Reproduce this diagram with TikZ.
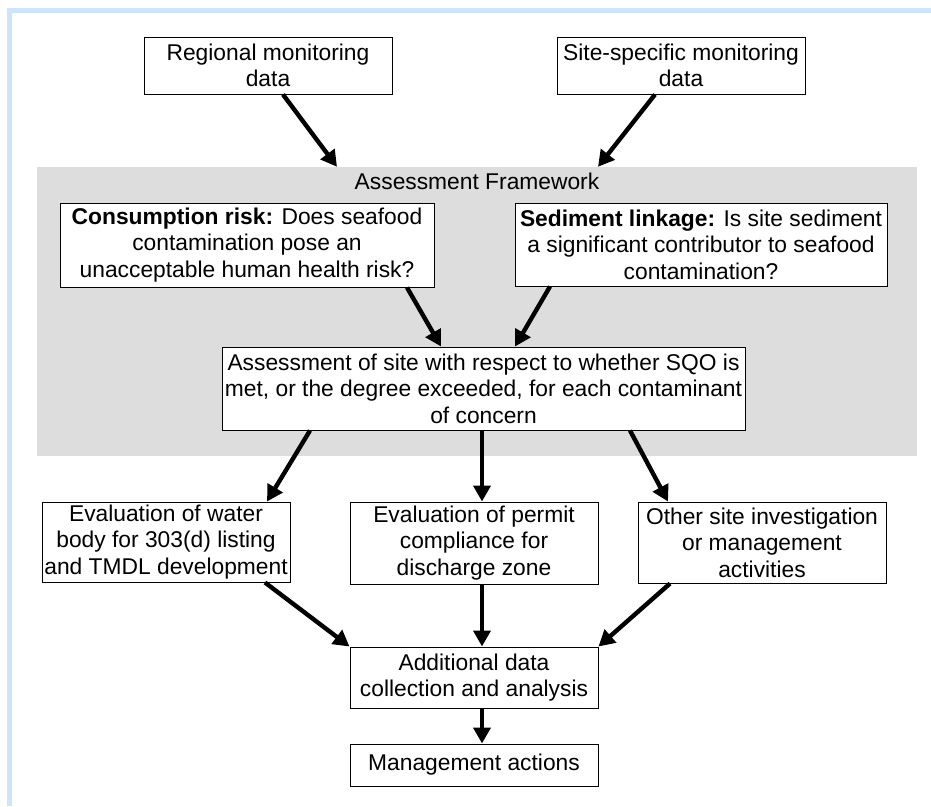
\documentclass[tikz,border=0pt]{standalone}
\usepackage{fontspec}
\setmainfont{Liberation Sans}
\usepackage{xcolor}
\usepackage{tikz}
\usetikzlibrary{arrows.meta, positioning}
\definecolor{sqobleu}{RGB}{204,228,252}
\definecolor{sqogris}{RGB}{221,221,221}

\tikzset{
  sqobox/.style={rectangle, draw=black, line width=1pt, fill=white, inner sep=0pt,
                 align=center, font=\fontsize{22.8}{26.5}\selectfont},
  sqoarrow/.style={line width=4.4pt, -{Triangle[length=16pt, width=17pt]}}
}

\begin{document}
\begin{tikzpicture}[x=1pt, y=-1pt]
  \useasboundingbox (0,0) rectangle (931,806);
  \fill[sqobleu] (7,8) rectangle (931,13);
  \fill[sqobleu] (7,8) rectangle (12,806);

  \node[rectangle, fill=sqogris, inner sep=0pt, minimum width=880pt, minimum height=289pt]
    (frame) at (477,311.5) {};
  \node[font=\fontsize{22.8}{26.5}\selectfont, below=3pt of frame.north] (fwlabel) {Assessment Framework};

  \node[sqobox, minimum width=248pt, minimum height=57pt] (reg) at (268,65.5)
    {Regional monitoring\\data};
  \node[sqobox, minimum width=248pt, minimum height=57pt] (site) at (681,65.5)
    {Site-specific monitoring\\data};

  \node[sqobox, minimum width=374pt, minimum height=84pt] (cons) at (247,245)
    {\textbf{Consumption risk:} Does seafood\\contamination pose an\\unacceptable human health risk?};
  \node[sqobox, minimum width=372pt, minimum height=83pt] (sed) at (701,244.5)
    {\textbf{Sediment linkage:} Is site sediment\\a significant contributor to seafood\\contamination?};

  \node[sqobox, minimum width=523pt, minimum height=83pt] (assess) at (483.5,388.5)
    {Assessment of site with respect to whether SQO is\\met, or the degree exceeded, for each contaminant\\of concern};

  \node[sqobox, minimum width=248pt, minimum height=80pt] (water) at (166,542)
    {Evaluation of water\\body for 303(d) listing\\and TMDL development};
  \node[sqobox, minimum width=248pt, minimum height=82pt] (permit) at (474,543)
    {Evaluation of permit\\compliance for\\discharge zone};
  \node[sqobox, minimum width=248pt, minimum height=81pt] (other) at (762,542.5)
    {Other site investigation\\or management\\activities};

  \node[sqobox, minimum width=248pt, minimum height=61pt] (addl) at (474,677.5)
    {Additional data\\collection and analysis};
  \node[sqobox, minimum width=248pt, minimum height=42pt] (mgmt) at (474,765)
    {Management actions};

  \draw[sqoarrow] ([xshift=15pt]reg.south) -- ([xshift=-140pt]frame.north);
  \draw[sqoarrow] ([xshift=-26pt]site.south) -- ([xshift=121pt]frame.north);
  \draw[sqoarrow] ([xshift=160pt]cons.south) -- ([xshift=-42.5pt]assess.north);
  \draw[sqoarrow] ([xshift=-151pt]sed.south) -- ([xshift=31.5pt]assess.north);
  \draw[sqoarrow] ([xshift=-173.5pt]assess.south) -- ([xshift=101pt]water.north);
  \draw[sqoarrow] ([xshift=-1.5pt]assess.south) -- ([xshift=8pt]permit.north);
  \draw[sqoarrow] ([xshift=146.5pt]assess.south) -- ([xshift=-94pt]other.north);
  \draw[sqoarrow] ([xshift=99pt]water.south) -- (addl.north west);
  \draw[sqoarrow] ([xshift=8pt]permit.south) -- ([xshift=8pt]addl.north);
  \draw[sqoarrow] ([xshift=-92pt]other.south) -- (addl.north east);
  \draw[sqoarrow] ([xshift=8pt]addl.south) -- ([xshift=8pt]mgmt.north);
\end{tikzpicture}
\end{document}
